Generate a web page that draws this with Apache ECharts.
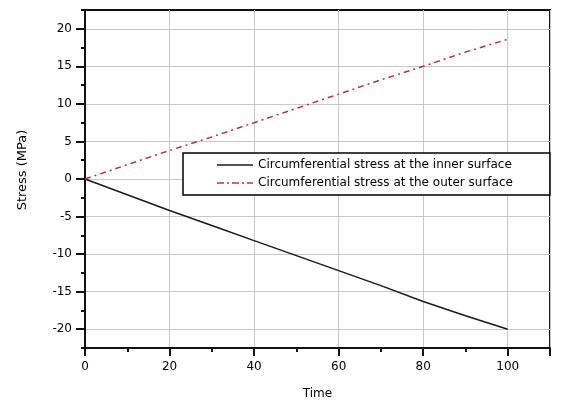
<!DOCTYPE html>
<html>
<head>
<meta charset="utf-8">
<script src="https://cdn.jsdelivr.net/npm/echarts@6/dist/echarts.min.js"></script>
<style>html,body{margin:0;padding:0;background:#fff;}#c{width:561px;height:400px;}</style>
</head>
<body>
<div id="c"></div>
<script>
const time = [0, 10, 20, 30, 40, 50, 60, 70, 80, 90, 100];
const innerStress = [0, -2.1, -4.2, -6.2, -8.2, -10.2, -12.2, -14.2, -16.3, -18.2, -20.0];
const outerStress = [0, 1.9, 3.8, 5.6, 7.5, 9.4, 11.3, 13.2, 15.0, 16.9, 18.6];
const yTicks = [-20, -15, -10, -5, 0, 5, 10, 15, 20];
const xTicks = [0, 20, 40, 60, 80, 100];
const seriesNames = ['Circumferential stress at the inner surface', 'Circumferential stress at the outer surface'];

const font = 'DejaVu Sans';
const chart = echarts.init(document.getElementById('c'));
chart.setOption({
  animation: false,
  grid: { left: 85, right: 11, top: 10, bottom: 52, outerBoundsMode: 'none', containLabel: false,
    show: true, borderColor: '#111', borderWidth: 2, backgroundColor: 'transparent' },
  legend: {
    orient: 'vertical', left: 183, top: 153,
    padding: [6, 37, 6, 34],
    itemGap: 6, itemWidth: 36, itemHeight: 14,
    borderColor: '#000', borderWidth: 1.5, backgroundColor: '#fff',
    textStyle: { fontFamily: font, fontSize: 12, color: '#000' },
    data: [
      { name: seriesNames[0], icon: 'path://M0,6 L36,6 L36,7.5 L0,7.5 Z' },
      { name: seriesNames[1], icon: 'path://M0,6h7v1.5h-7z M10,6h2v1.5h-2z M15,6h7v1.5h-7z M25,6h2v1.5h-2z M30,6h6v1.5h-6z' }
    ]
  },
  xAxis: [
    { type: 'value', min: 0, max: 110, interval: 10,
      name: 'Time', nameLocation: 'middle', nameGap: 40,
      nameTextStyle: { fontFamily: font, fontSize: 12, color: '#000' },
      axisLine: { show: true, onZero: false, lineStyle: { color: '#111', width: 2 } },
      axisTick: { show: true, length: 4, lineStyle: { color: '#111', width: 2 } },
      axisLabel: { show: false },
      splitLine: { show: false } },
    { type: 'value', min: 0, max: 110, interval: 20, position: 'bottom',
      axisLine: { show: false, onZero: false },
      axisTick: { show: true, length: 8, lineStyle: { color: '#111', width: 2 } },
      axisLabel: { show: true, margin: 13, fontFamily: font, fontSize: 12, color: '#000',
        formatter: v => (xTicks.indexOf(v) >= 0 ? String(v) : '') },
      splitLine: { show: true, lineStyle: { color: '#c8c8c8', width: 1 } } }
  ],
  yAxis: [
    { type: 'value', min: -22.5, max: 22.5, interval: 2.5,
      name: 'Stress (MPa)', nameLocation: 'middle', nameGap: 56,
      nameTextStyle: { fontFamily: font, fontSize: 13, color: '#000', padding: [0, 0, 0, 18] },
      axisLine: { show: true, onZero: false, lineStyle: { color: '#111', width: 2 } },
      axisTick: { show: true, length: 4, lineStyle: { color: '#111', width: 2 } },
      axisLabel: { show: true, margin: 13, fontFamily: font, fontSize: 12, color: '#000',
        formatter: v => (yTicks.indexOf(v) >= 0 ? String(v) : '') },
      splitLine: { show: false } },
    { type: 'value', min: -22.5, max: 22.5, position: 'left',
      axisLine: { show: false, onZero: false },
      axisTick: { show: true, length: 9, customValues: yTicks, lineStyle: { color: '#111', width: 2 } },
      axisLabel: { show: false, customValues: yTicks },
      splitLine: { show: true, lineStyle: { color: '#c8c8c8', width: 1 } } }
  ],
  series: [
    { name: seriesNames[0], type: 'line', xAxisIndex: 0, yAxisIndex: 0,
      data: time.map((t, i) => [t, innerStress[i]]),
      symbol: 'none', z: 3,
      lineStyle: { color: '#1a1a1a', width: 1.5 }, itemStyle: { color: '#1a1a1a' } },
    { name: seriesNames[1], type: 'line', xAxisIndex: 0, yAxisIndex: 0,
      data: time.map((t, i) => [t, outerStress[i]]),
      symbol: 'none', z: 3,
      lineStyle: { color: '#b8303f', width: 1.5, type: [6, 4, 2, 4] }, itemStyle: { color: '#b8303f' } }
  ]
});
</script>
</body>
</html>
